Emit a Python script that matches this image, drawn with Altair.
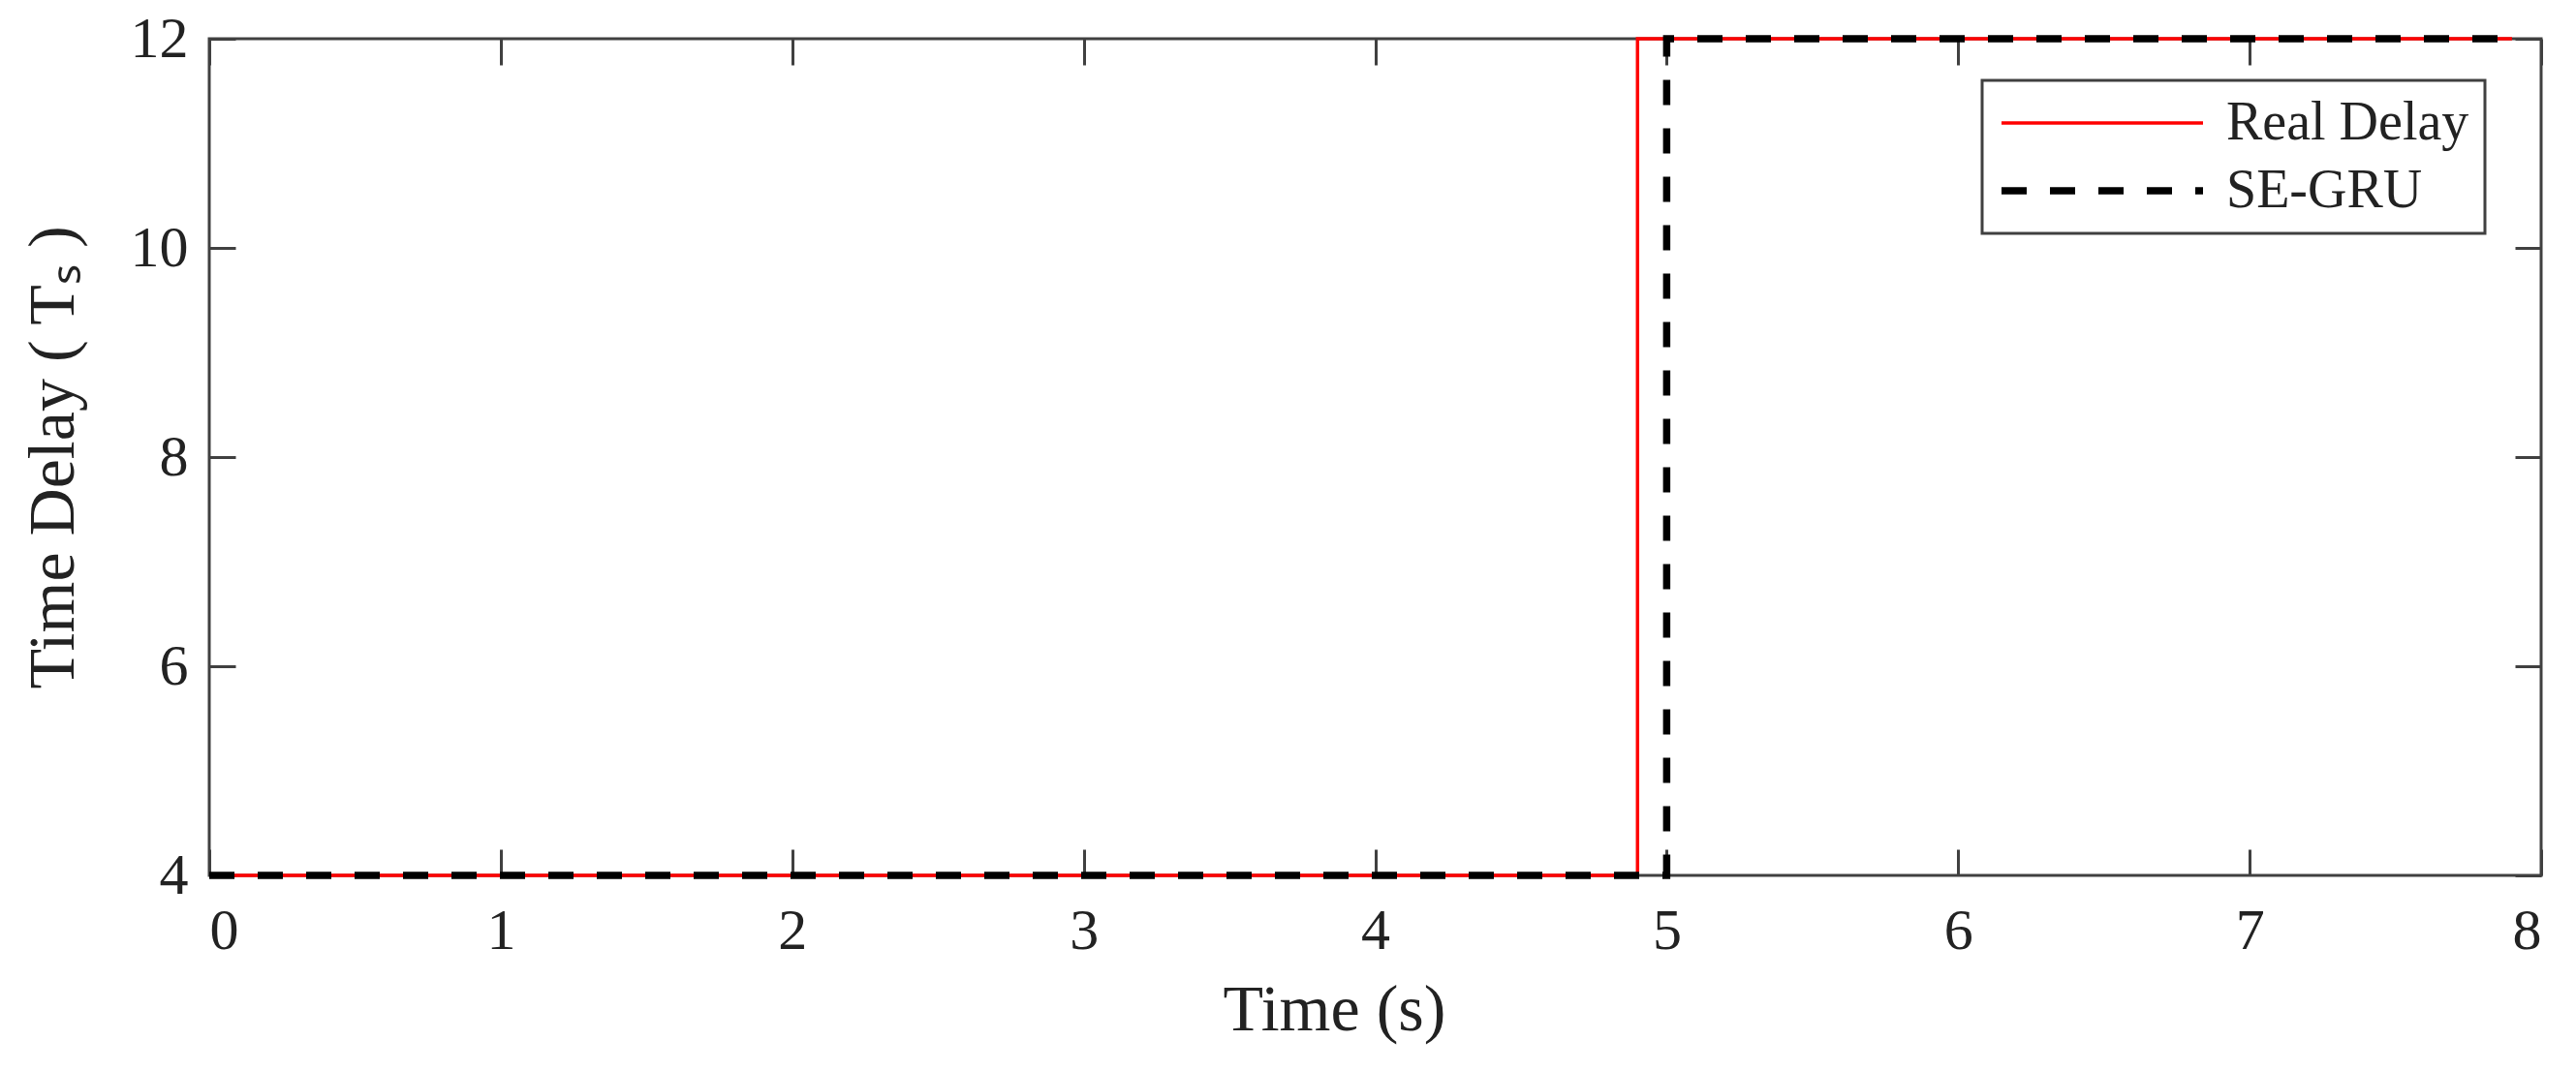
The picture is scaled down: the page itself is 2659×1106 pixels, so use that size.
import altair as alt
import pandas as pd

# ---- data ----
series_names = ["Real Delay", "SE-GRU"]
real_time = [0.0, 4.9, 4.9, 7.9]
real_delay = [4, 4, 12, 12]
segru_time = [0.0, 5.0, 5.0, 7.9]
segru_delay = [4, 4, 12, 12]
x_ticks = [0, 1, 2, 3, 4, 5, 6, 7, 8]
y_ticks = [4, 6, 8, 10, 12]

rows = []
for i, (t, v) in enumerate(zip(real_time, real_delay)):
    rows.append({"t": t, "d": v, "series": series_names[0], "idx": i})
for i, (t, v) in enumerate(zip(segru_time, segru_delay)):
    rows.append({"t": t, "d": v, "series": series_names[1], "idx": i})
df = pd.DataFrame(rows)

FONT = "Liberation Serif"
TXT = "#222222"
FRAME = "#404040"

xscale = alt.Scale(domain=[0, 8], nice=False, zero=False)
yscale = alt.Scale(domain=[4, 12], nice=False, zero=False)

lines = alt.Chart(df).mark_line(strokeCap="butt").encode(
    x=alt.X("t:Q", scale=xscale,
            axis=alt.Axis(orient="bottom", values=x_ticks, offset=-27, tickSize=27,
                          domain=False, grid=False, labelPadding=28,
                          labelFontSize=60, title="Time (s)", titleFontSize=68,
                          titlePadding=18, titleX=1161, titleAlign="center")),
    y=alt.Y("d:Q", scale=yscale,
            axis=alt.Axis(orient="left", values=y_ticks, offset=-27, tickSize=27,
                          domain=False, grid=False, labelPadding=22,
                          labelFontSize=60, title="Time Delay ( Tₛ )",
                          titleFontSize=68, titlePadding=45)),
    color=alt.Color("series:N",
                    scale=alt.Scale(domain=series_names, range=["#ff0000", "#000000"]),
                    legend=alt.Legend(title=None, orient="none", legendX=1830, legendY=43)),
    strokeDash=alt.StrokeDash("series:N",
                              scale=alt.Scale(domain=series_names, range=[[1, 0], [26, 24]]),
                              legend=alt.Legend(title=None, orient="none", legendX=1830, legendY=43)),
    strokeWidth=alt.StrokeWidth("series:N",
                                scale=alt.Scale(type="ordinal", domain=series_names, range=[3.5, 7.5]),
                                legend=alt.Legend(title=None, orient="none", legendX=1830, legendY=43)),
    order=alt.Order("idx:Q"),
)

frame_ticks = alt.Chart(df).mark_line(opacity=0).encode(
    x=alt.X("t:Q", scale=xscale, title=None,
            axis=alt.Axis(orient="top", values=x_ticks, offset=-27, tickSize=27,
                          domain=False, grid=False, labels=False)),
    y=alt.Y("d:Q", scale=yscale, title=None,
            axis=alt.Axis(orient="right", values=y_ticks, offset=-27, tickSize=27,
                          domain=False, grid=False, labels=False)),
    order=alt.Order("idx:Q"),
)

chart = (
    alt.layer(lines, frame_ticks)
    .resolve_axis(x="independent", y="independent")
    .properties(width=2407, height=864,
                padding={"left": 13, "top": 2, "right": 5, "bottom": 5},
                background="white")
    .configure_view(stroke=FRAME, strokeWidth=3)
    .configure_axis(tickColor=FRAME, tickWidth=3, labelFont=FONT, titleFont=FONT,
                    labelColor=TXT, titleColor=TXT, titleFontWeight="normal")
    .configure_legend(labelFont=FONT, labelFontSize=56, labelColor=TXT, labelLimit=0,
                      symbolType="stroke", symbolSize=43264, clipHeight=56,
                      labelOffset=20, padding=16, rowPadding=14,
                      strokeColor=FRAME, strokeWidth=3, fillColor="white")
)

chart.save("out.html", embed_options={"renderer": "svg", "actions": False})
